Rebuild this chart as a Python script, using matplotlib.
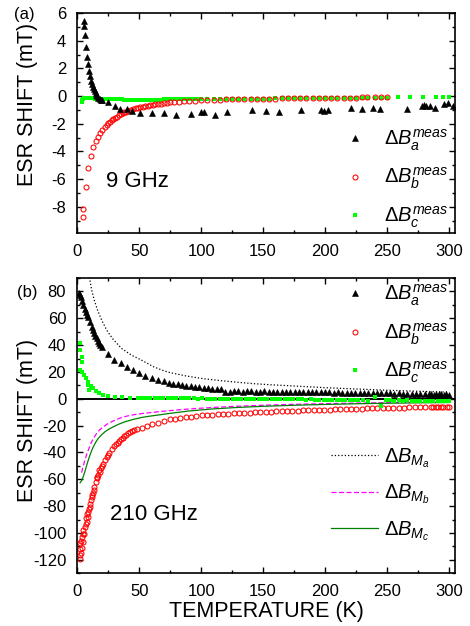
import matplotlib
matplotlib.use('Agg')
import matplotlib.pyplot as plt
from matplotlib.ticker import MultipleLocator

plt.rcParams['font.family'] = ['Liberation Sans', 'DejaVu Sans']
plt.rcParams['mathtext.fontset'] = 'custom'
plt.rcParams['mathtext.it'] = 'Liberation Sans:italic'
plt.rcParams['mathtext.rm'] = 'Liberation Sans'
plt.rcParams['axes.unicode_minus'] = False

# ---- (a) 9 GHz ----
T_a9 = [5.3, 5.4, 6.2, 7.0, 8.1, 8.9, 9.7, 10.5, 11.3, 12.0, 12.7, 13.4, 14.1, 14.8, 15.5, 16.3, 17.1, 18.0,
        19.0, 20.2, 24.5, 30.4, 34.4, 39.8, 44.5, 50.5, 60.5, 70.2, 80.1, 92.2, 99.7, 102, 111, 121, 141, 152,
        163, 181, 196.5, 199, 202.7, 221, 230, 238.7, 244.6, 266, 278.5, 280, 281.5, 285, 289, 296, 299.5, 303]
B_a9 = [5.39, 5.08, 4.42, 3.57, 2.79, 2.31, 1.82, 1.43, 1.07, 0.85, 0.65, 0.48, 0.33, 0.2, 0.08, -0.03, -0.13,
        -0.22, -0.28, -0.32, -0.46, -0.75, -0.92, -0.97, -1.1, -1.21, -1.21, -1.24, -1.34, -1.29, -1.17, -1.17,
        -1.34, -1.19, -1.04, -1.09, -1.19, -1.0, -1.0, -1.07, -1.0, -0.87, -0.92, -0.83, -0.95, -0.92, -0.7,
        -0.63, -0.7, -0.73, -0.85, -0.61, -0.51, -0.75]

T_b9 = [5, 5, 7, 8.9, 11, 12.9, 14.8, 16.4, 18.3, 20.2, 22.3, 24, 25, 26.5, 27.7, 29, 30.5, 31.8, 33.5, 35,
        36.5, 38, 39.5, 41, 43, 45, 47, 49, 51, 53, 55, 57, 59, 61, 63, 65, 67.5, 70, 72.5, 75,
        78, 82, 86, 90, 95, 100, 105, 110, 115, 120, 125, 130, 135, 140, 145, 150, 155, 160, 165, 170,
        175, 180, 185, 190, 195, 200, 205, 210, 215, 220, 225, 230, 234, 240, 245, 250]
B_b9 = [-8.75, -8.15, -6.6, -5.2, -4.35, -3.7, -3.25, -2.95, -2.7, -2.46, -2.22, -2.08, -1.98, -1.86, -1.74,
        -1.64, -1.56, -1.5, -1.4, -1.3, -1.24, -1.18, -1.12, -1.06, -1.0, -0.95, -0.9, -0.85, -0.8, -0.77,
        -0.74, -0.7, -0.67, -0.64, -0.61, -0.58, -0.55, -0.52, -0.49, -0.46, -0.44, -0.41, -0.39, -0.37, -0.34,
        -0.32, -0.3, -0.28, -0.26, -0.25, -0.24, -0.23, -0.22, -0.21, -0.2, -0.19, -0.18, -0.18, -0.17, -0.17,
        -0.16, -0.16, -0.16, -0.15, -0.15, -0.15, -0.14, -0.14, -0.13, -0.13, -0.12, -0.08, -0.07, -0.06,
        -0.06, -0.05]

T_c9 = [3.5, 4, 4.6, 5.2, 6, 7, 8, 9, 10, 11, 12, 13, 14, 15, 16, 17, 18, 19, 20, 22, 24, 26, 28, 30, 32, 34,
        36, 38, 40, 43, 46, 49, 52, 55, 58, 61, 64, 67, 70, 73, 76, 79, 82, 85, 88, 91, 94, 97, 100, 105,
        110, 115, 120, 125, 130, 135, 140, 145, 150, 155, 160, 165, 170, 175, 180, 185, 190, 195, 200, 205,
        210, 215, 220, 225, 230, 235, 240, 245, 250, 259, 269, 279, 290, 295, 300]
B_c9 = [-0.44, -0.3, -0.2, -0.15, -0.14, -0.14, -0.15, -0.15, -0.16, -0.16, -0.17, -0.17, -0.18, -0.18,
        -0.19, -0.2, -0.2, -0.21, -0.22, -0.22, -0.23, -0.23, -0.24, -0.24, -0.25, -0.25, -0.25, -0.26,
        -0.26, -0.26, -0.27, -0.27, -0.27, -0.27, -0.26, -0.26, -0.26, -0.26, -0.25, -0.25, -0.25, -0.24,
        -0.24, -0.24, -0.23, -0.23, -0.22, -0.22, -0.22, -0.21, -0.21, -0.2, -0.2, -0.2, -0.19, -0.19,
        -0.19, -0.18, -0.18, -0.18, -0.17, -0.17, -0.17, -0.16, -0.16, -0.16, -0.15, -0.15, -0.15, -0.14,
        -0.14, -0.14, -0.13, -0.13, -0.13, -0.12, -0.12, -0.12, -0.11, -0.07, -0.1, -0.07, -0.1, -0.08, -0.1]

# ---- (b) 210 GHz ----
T_a210 = [1.4, 2.2, 3.0, 3.9, 4.8, 5.9, 7.0, 8.0, 8.9, 10.2, 11.6, 12.6, 13.7, 14.6, 15.6, 16.5, 17.5, 18.6,
          19.7, 24.5, 29.8, 35.2, 39.8, 45.2, 50, 55, 60.5, 65, 70, 74, 77.4,
          81, 84.5, 88, 91.5, 95, 98.5, 102, 105.5, 109, 112.5, 116, 119.5, 123, 126.5, 130, 133.5, 137,
          140.5, 144, 147.5, 151, 154.5, 158, 161.5, 165, 168.5, 172, 175.5, 179, 182.5, 186, 189.5, 193,
          196.5, 200, 203.5, 207, 210.5, 214, 217.5, 221, 224.5, 228, 231.5, 235, 238.5, 242, 245.5, 249,
          252.5, 256, 259.5, 263, 266.5, 270, 273.5, 277, 280.5, 284,
          286, 288, 290, 292, 294, 296, 298, 300]
B_a210 = [78.5, 77, 75.6, 72.5, 69.8, 67, 64.8, 62.5, 60.6, 57.4, 53.7, 51.5, 49.2, 47, 45, 43, 41.3, 40, 38.8,
          33.3, 28.8, 26.4, 23.4, 21.4, 19.4, 17.2, 15.6, 14.2, 13, 12, 11.3,
          10.8, 10.3, 9.9, 9.5, 9.1, 8.7, 8.3, 7.9, 7.6, 7.3, 7.0,
          5.0, 5.3, 5.6, 5.5, 5.4, 5.6, 5.5, 5.3, 5.4, 5.5, 5.3, 5.2, 5.4, 5.3, 5.1, 5.2, 5.0, 5.1, 5.2, 4.9,
          5.0, 4.8, 4.9, 4.7, 4.8, 4.6, 4.7, 4.5, 4.6, 4.4, 4.5, 4.3, 4.4, 4.2, 4.3, 4.1, 4.2, 4.0, 4.1, 3.9,
          4.0, 3.8, 3.9, 3.7, 3.8, 3.6, 3.7, 3.5,
          3.5, 3.2, 3.6, 3.3, 3.4, 3.1, 3.5, 3.2]

T_b210 = [2.2, 2.0, 3.0, 2.5, 4.0, 2.2, 3.2, 4.8, 3.5, 4.2, 5.6, 5.0, 6.2, 6.8, 7.6, 7.0, 8.4, 8.0, 8.9, 9.6,
          10.2, 10.6, 11.0, 12.1, 11.6, 12.8, 13.7, 13.2, 14.8, 15.6, 16.2, 16.9, 18.3, 17.6, 19.1, 20.0,
          21.0, 22.3, 23.7, 24.8, 25.8, 27.7, 29.8, 31.2, 32.6, 34.0, 35.2, 36.5, 37.9, 39.5, 41.1, 42.8,
          44.4, 46.0, 47.9, 51.9, 56.0, 60.5, 65.3, 70.2, 74.8,
          79, 83.3, 87.6, 91.9, 96.2, 100.5, 104.8, 109.1, 113.4, 117.7, 122, 126.3, 130.6, 134.9, 139.2,
          143.5, 147.8, 152.1, 156.4, 160.7, 165, 169.3, 173.6, 177.9, 182.2, 186.5, 190.8, 195.1, 199.4,
          203.7, 208, 212.3, 216.6, 220.9, 225.2, 229.5, 233.8, 238.1, 242.4, 246.7, 251, 255.3, 259.6,
          263.9, 268.2, 272.5, 276.8, 281.1, 285.4, 289.7, 294, 298.3, 287, 291, 295, 300]
B_b210 = [-119.7, -116, -115.2, -112, -111.5, -107.7, -106, -106.5, -102.8, -101, -100.8, -97.5, -95.4, -93,
          -91.6, -89, -87.9, -86, -84.2, -82, -80.5, -78, -75.5, -73.5, -72, -70.5, -68, -66, -61.8, -59.3,
          -58, -56.9, -54.4, -53, -51.4, -50, -48.2, -45.7, -43.2, -41.6, -40.2, -37.7, -35.2, -34, -32.8,
          -31.5, -30.3, -29, -27.8, -26.8, -25.8, -25, -24.1, -23.4, -22.8, -21.6, -20.3, -19.1, -17.9,
          -16.6, -15.4,
          -14.8, -14.2, -13.7, -13.2, -12.8, -12.4, -12.1, -11.8, -11.5, -11.3, -11.1, -10.9, -10.7, -10.5,
          -10.3, -10.1, -9.9, -9.7, -9.6, -9.4, -9.3, -9.1, -9.0, -8.8, -8.7, -8.5, -8.4, -8.3, -8.1, -8.0,
          -7.9, -7.8, -7.7, -7.5, -7.4, -7.3, -7.2, -7.1, -7.0, -6.9, -6.8, -6.7, -6.6, -6.5, -6.4, -6.3,
          -6.2, -6.1, -6.1, -6.0, -5.9, -5.8, -6.3, -6.2, -6.0, -5.8]

T_c210 = [2.2, 2.2, 3.5, 4.0, 1.9, 4.0, 5.6, 7.0, 8.4, 9.4, 8.9, 11, 12.9, 14.8, 17.5, 21, 25, 30.4, 35.8,
          42.5, 49,
          52, 55.5, 59, 62.5, 66, 69.5, 73, 76.5, 80, 83.5, 87, 90.5, 94, 97.5, 101, 104.5, 108, 111.5, 115,
          118.5, 122, 125.5, 129, 132.5, 136, 139.5, 143, 146.5, 150, 153.5, 157, 160.5, 164, 167.5, 171,
          174.5, 178, 181.5, 185, 188.5, 192, 195.5, 199, 202.5, 206, 209.5, 213, 216.5, 220, 223.5, 227,
          230.5, 234.7, 240, 245.5,
          249, 252.5, 256, 259.5, 263, 266.5, 270, 273.5, 277, 280.5, 284, 287.5, 291, 294.5, 298, 300]
B_c210 = [41.3, 36.3, 31.3, 27.6, 21.4, 20.1, 17.7, 15.2, 12.7, 6.5, 10.2, 9.5, 7.7, 6.0, 4.5, 3.2, 2.3, 1.5,
          1.0, 0.7, 0.5,
          0.5, 0.6, 0.4, 0.5, 0.5, 0.4, 0.5, 0.4, 0.4, 0.3, 0.4, 0.3, 0.3, 0.2, 0.3, 0.2, 0.2, 0.1, 0.2, 0.1,
          0.0, 0.1, 0.0, -0.1, 0.0, -0.1, -0.2, -0.1, -0.2, -0.3, -0.2, -0.3, -0.4, -0.3, -0.4, -0.5, -0.4,
          -0.5, -0.6, -0.5, -0.6, -0.7, -0.6, -0.7, -0.8, -0.7, -0.8, -0.9, -0.8, -0.9, -1.0, -0.9,
          -2.0, 1.0, -5.0,
          -1.2, -1.0, -1.3, -1.1, -1.4, -1.2, -1.5, -1.3, -1.6, -1.4, -1.7, -1.5, -1.8, -1.6, -1.9, -1.7]

# model curves
T_Ma = [9.5, 10.2, 11.6, 13.7, 16.4, 19.7, 23.7, 29, 35.8, 43.8, 51.9, 61.3, 68, 74.8, 88, 101.6, 115, 128.5,
        142, 155.4, 170, 182, 200, 225, 250, 275, 300]
B_Ma = [93, 88.4, 81, 73.5, 66, 58.6, 51.2, 44.2, 37.5, 32.5, 28.8, 24, 21.5, 19.5, 17, 15, 13.6, 12.4, 11.3,
        10.5, 9.8, 9.2, 8.3, 7.3, 6.4, 5.6, 5.0]
T_Mb = [3.5, 4.5, 6.2, 7.5, 8.9, 10.2, 11.6, 13.5, 15.6, 18, 21, 24, 27.7, 31.5, 35.8, 41, 46.5, 53, 60, 68,
        76, 90, 110, 130, 150, 175, 200, 225, 250, 275, 300]
B_Mb = [-55, -51, -45.7, -41.5, -38.2, -35, -32, -28.8, -25.8, -23.2, -20.9, -18.9, -17.1, -15.5, -13.9,
        -12.7, -11.7, -10.9, -10.2, -9.4, -8.7, -7.6, -6.4, -5.5, -4.8, -4.1, -3.6, -3.2, -2.9, -2.6, -2.4]
T_Mc = [2.2, 3.5, 4.8, 6.2, 7.6, 8.9, 10.2, 11.5, 12.9, 14.8, 16.9, 19.5, 22.3, 25.5, 29, 33.5, 38.5, 45,
        51.9, 58, 65.3, 72, 78.8, 90, 110, 130, 150, 175, 200, 225, 250, 275, 300]
B_Mc = [-62.6, -61, -58, -54, -49.4, -45.6, -42, -38.8, -35.8, -32.5, -29.5, -26.9, -24.6, -22.6, -20.9,
        -18.9, -17.1, -15.4, -13.9, -13, -12.1, -11.2, -10.4, -9.1, -7.5, -6.4, -5.6, -4.8, -4.2, -3.7,
        -3.3, -3.0, -2.8]

lab_a = r'$\mathit{\Delta B}_{a}^{meas}$'
lab_b = r'$\mathit{\Delta B}_{b}^{meas}$'
lab_c = r'$\mathit{\Delta B}_{c}^{meas}$'

fig = plt.figure(figsize=(4.7, 6.26), dpi=100)
ax1 = fig.add_axes([77.3 / 470, 1 - 233 / 626, 377.7 / 470, 220 / 626])
ax2 = fig.add_axes([77.3 / 470, 1 - 573.3 / 626, 377.7 / 470, 295.3 / 626])

tri = dict(ls='none', marker='^', color='black', ms=4.6, mew=0.4)
circ = dict(ls='none', marker='o', mfc='none', mec='red', ms=3.6, mew=0.75)
sq = dict(ls='none', marker='s', color='#00ff00', ms=3.5, mew=0)
legkw = dict(loc='upper left', frameon=False, fontsize=14.5, handlelength=2.35, handletextpad=0.3,
             labelspacing=0.65, borderpad=0, borderaxespad=0)

# panel (a)
ax1.plot(T_c9, B_c9, label=lab_c, **sq)
ax1.plot(T_b9, B_b9, label=lab_b, **circ)
ax1.plot(T_a9, B_a9, label=lab_a, **tri)
ax1.set_xlim(0, 305)
ax1.set_ylim(-9.9, 6)
ax1.yaxis.set_major_locator(MultipleLocator(2))
ax1.yaxis.set_minor_locator(MultipleLocator(1))
ax1.text(23, -6.6, '9 GHz', fontsize=16)
h, l = ax1.get_legend_handles_labels()
ax1.legend(h[::-1], l[::-1], bbox_to_anchor=(0.672, 0.48), **legkw)

# panel (b)
ax2.axhline(0, color='black', lw=1.4, zorder=1)
ax2.plot(T_Ma, B_Ma, ls=':', color='black', lw=0.9, label=r'$\mathit{\Delta B}_{M_{a}}$')
ax2.plot(T_Mb, B_Mb, ls='--', color='#ff00ff', lw=0.9, dashes=(4, 2), label=r'$\mathit{\Delta B}_{M_{b}}$')
ax2.plot(T_Mc, B_Mc, ls='-', color='green', lw=0.9, label=r'$\mathit{\Delta B}_{M_{c}}$')
pa, = ax2.plot(T_a210, B_a210, label=lab_a, **tri)
pb, = ax2.plot(T_b210, B_b210, label=lab_b, **circ)
pc, = ax2.plot(T_c210, B_c210, label=lab_c, **sq)
ax2.set_xlim(0, 305)
ax2.set_ylim(-130, 90)
ax2.yaxis.set_major_locator(MultipleLocator(20))
ax2.yaxis.set_minor_locator(MultipleLocator(10))
ax2.text(26.4, -90.4, '210 GHz', fontsize=16)
h, l = ax2.get_legend_handles_labels()
leg1 = ax2.legend([pa, pb, pc], [lab_a, lab_b, lab_c], bbox_to_anchor=(0.672, 0.985), **legkw)
ax2.add_artist(leg1)
ax2.legend(h[:3], l[:3], bbox_to_anchor=(0.672, 0.431), **legkw)
ax2.set_xlabel('TEMPERATURE (K)', fontsize=15.5, labelpad=1)

for ax in (ax1, ax2):
    ax.xaxis.set_major_locator(MultipleLocator(50))
    ax.xaxis.set_minor_locator(MultipleLocator(25))
    ax.tick_params(which='both', direction='in', top=True, right=True, labelsize=12, pad=8)
    ax.tick_params(which='major', length=4, width=1)
    ax.tick_params(which='minor', length=2.3, width=1)
    for s in ax.spines.values():
        s.set_linewidth(1.2)
    ax.set_ylabel('ESR SHIFT (mT)', fontsize=15.5)

ax1.yaxis.set_label_coords(-0.104, 0.585)
ax2.yaxis.set_label_coords(-0.104, 0.519)

fig.text(14 / 470, 1 - 19 / 626, '(a)', fontsize=12)
fig.text(17 / 470, 1 - 297 / 626, '(b)', fontsize=12)

fig.savefig('out.png', dpi=100)
